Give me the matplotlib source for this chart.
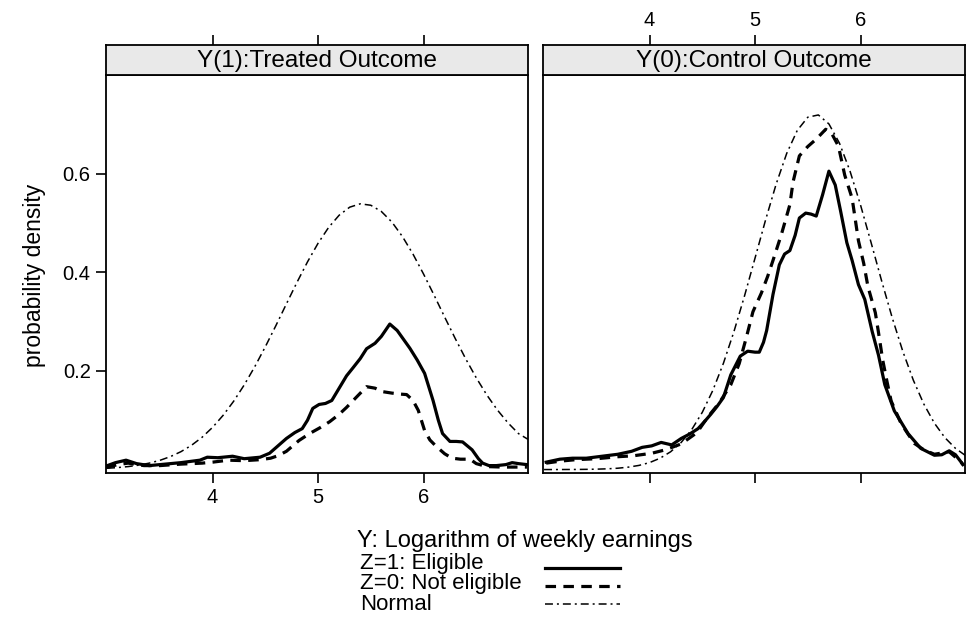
import numpy as np
import matplotlib
matplotlib.use("Agg")
import matplotlib.pyplot as plt
from matplotlib.lines import Line2D

plt.rcParams['font.family'] = ['Liberation Sans', 'DejaVu Sans']

# %%
# Data
panel_titles = ["Y(1):Treated Outcome", "Y(0):Control Outcome"]
x_ticks = [4, 5, 6]
y_ticks = [0.2, 0.4, 0.6]
y_tick_labels = ["0.2", "0.4", "0.6"]

# grid for the normal reference curves
normal_x = np.round(np.linspace(3.0, 7.0, 41), 2)

# treated outcome (left panel)
treated_normal = [0.0026, 0.0040, 0.0060, 0.0089, 0.0130, 0.0186, 0.0262, 0.0362, 0.0491, 0.0653,
                  0.0855, 0.1099, 0.1385, 0.1715, 0.2085, 0.2489, 0.2917, 0.3359, 0.3795, 0.4211,
                  0.4588, 0.4909, 0.5157, 0.5320, 0.5388, 0.5359, 0.5233, 0.5018, 0.4724, 0.4368,
                  0.3964, 0.3534, 0.3092, 0.2658, 0.2243, 0.1858, 0.1511, 0.1207, 0.0947, 0.0729,
                  0.0600]
treated_elig_x = [2.99, 3.08, 3.18, 3.28, 3.40, 3.55, 3.70, 3.88, 3.95, 4.05, 4.19, 4.30, 4.45, 4.54,
                  4.62, 4.70, 4.78, 4.85, 4.90, 4.95, 5.01, 5.07, 5.13, 5.20, 5.27, 5.33, 5.40, 5.46,
                  5.54, 5.60, 5.68, 5.75, 5.81, 5.87, 5.94, 6.01, 6.09, 6.14, 6.18, 6.25, 6.31, 6.37,
                  6.46, 6.52, 6.56, 6.62, 6.69, 6.78, 6.84, 6.90, 6.98]
treated_elig = [0.007, 0.014, 0.019, 0.012, 0.008, 0.011, 0.014, 0.019, 0.025, 0.024, 0.027, 0.022,
                0.025, 0.033, 0.048, 0.063, 0.075, 0.083, 0.100, 0.124, 0.132, 0.134, 0.140, 0.165,
                0.190, 0.206, 0.225, 0.245, 0.256, 0.270, 0.295, 0.282, 0.264, 0.246, 0.222, 0.195,
                0.140, 0.100, 0.073, 0.057, 0.057, 0.056, 0.040, 0.022, 0.013, 0.008, 0.008, 0.010,
                0.014, 0.012, 0.010]
treated_nonelig_x = [2.99, 3.10, 3.20, 3.35, 3.50, 3.70, 3.90, 4.00, 4.15, 4.30, 4.45, 4.55, 4.62,
                     4.70, 4.76, 4.82, 4.92, 5.02, 5.11, 5.20, 5.27, 5.36, 5.46, 5.54, 5.61, 5.70,
                     5.78, 5.84, 5.90, 5.95, 6.01, 6.06, 6.12, 6.20, 6.27, 6.35, 6.44, 6.50, 6.60,
                     6.75, 6.98]
treated_nonelig = [0.004, 0.010, 0.013, 0.008, 0.008, 0.011, 0.013, 0.015, 0.019, 0.018, 0.020,
                   0.023, 0.028, 0.037, 0.048, 0.059, 0.073, 0.085, 0.097, 0.112, 0.126, 0.146,
                   0.168, 0.165, 0.158, 0.155, 0.153, 0.152, 0.140, 0.120, 0.079, 0.060, 0.047,
                   0.032, 0.023, 0.021, 0.021, 0.012, 0.006, 0.005, 0.005]

# control outcome (right panel)
control_normal = [0.0000, 0.0000, 0.0001, 0.0002, 0.0004, 0.0008, 0.0015, 0.0027, 0.0049, 0.0084,
                  0.0141, 0.0230, 0.0361, 0.0550, 0.0811, 0.1161, 0.1606, 0.2154, 0.2798, 0.3520,
                  0.4289, 0.5063, 0.5788, 0.6410, 0.6876, 0.7144, 0.7190, 0.7008, 0.6618, 0.6052,
                  0.5362, 0.4601, 0.3824, 0.3079, 0.2400, 0.1813, 0.1327, 0.0940, 0.0645, 0.0429,
                  0.0276]
control_elig_x = [3.02, 3.15, 3.27, 3.40, 3.55, 3.70, 3.83, 3.93, 4.02, 4.11, 4.21, 4.30, 4.38, 4.46,
                  4.52, 4.58, 4.64, 4.70, 4.77, 4.86, 4.93, 5.00, 5.04, 5.08, 5.11, 5.17, 5.23, 5.28,
                  5.33, 5.38, 5.42, 5.48, 5.53, 5.58, 5.64, 5.70, 5.76, 5.81, 5.87, 5.92, 5.98, 6.04,
                  6.11, 6.17, 6.23, 6.32, 6.45, 6.57, 6.70, 6.77, 6.84, 6.90, 6.95, 6.97]
control_elig = [0.015, 0.021, 0.023, 0.023, 0.027, 0.031, 0.037, 0.045, 0.048, 0.055, 0.050, 0.063,
                0.072, 0.083, 0.097, 0.112, 0.128, 0.146, 0.192, 0.230, 0.240, 0.238, 0.238, 0.258,
                0.282, 0.355, 0.415, 0.437, 0.444, 0.475, 0.510, 0.520, 0.518, 0.514, 0.557, 0.605,
                0.577, 0.525, 0.460, 0.424, 0.375, 0.345, 0.280, 0.232, 0.172, 0.119, 0.073, 0.043,
                0.029, 0.030, 0.038, 0.030, 0.016, 0.010]
control_nonelig_x = [3.02, 3.15, 3.30, 3.50, 3.70, 3.85, 4.02, 4.15, 4.30, 4.45, 4.55, 4.66, 4.77,
                     4.85, 4.92, 4.98, 5.06, 5.12, 5.17, 5.25, 5.33, 5.36, 5.42, 5.50, 5.58, 5.67,
                     5.73, 5.79, 5.85, 5.92, 5.98, 6.03, 6.07, 6.14, 6.17, 6.21, 6.25, 6.29, 6.385,
                     6.45, 6.51, 6.60, 6.70, 6.84, 6.95, 6.97]
control_nonelig = [0.013, 0.017, 0.020, 0.022, 0.026, 0.028, 0.033, 0.040, 0.052, 0.075, 0.106,
                   0.135, 0.172, 0.215, 0.270, 0.320, 0.358, 0.392, 0.424, 0.477, 0.537, 0.583,
                   0.636, 0.655, 0.670, 0.690, 0.680, 0.656, 0.597, 0.550, 0.464, 0.418, 0.371,
                   0.318, 0.278, 0.222, 0.179, 0.139, 0.093, 0.072, 0.053, 0.040, 0.031, 0.036,
                   0.016, 0.010]

legend_title = "Y: Logarithm of weekly earnings"
legend_labels = ["Z=1: Eligible", "Z=0: Not eligible", "Normal"]

# %%
# Styles
W, H = 967, 624
XLIM = (2.99, 6.99)
YLIM = (-0.007, 0.80)
solid = dict(color='black', lw=2.3, linestyle='-')
dashed = dict(color='black', lw=2.3, linestyle=(0, (3.3, 2.3)))
dashdot = dict(color='black', lw=1.1, linestyle=(0, (5.2, 2.6, 1.3, 2.6)))

fig = plt.figure(figsize=(W / 100, H / 100), dpi=100)


def px_axes(l, t, r, b):
    return fig.add_axes([l / W, 1 - b / H, (r - l) / W, (b - t) / H])


panels = [
    (106, 528, panel_titles[0], treated_normal, treated_elig_x, treated_elig,
     treated_nonelig_x, treated_nonelig),
    (543, 965, panel_titles[1], control_normal, control_elig_x, control_elig,
     control_nonelig_x, control_nonelig),
]

for i, (l, r, title, nrm, ex, ey, nx, ny) in enumerate(panels):
    ax = px_axes(l, 75, r, 473)
    ax.plot(normal_x, nrm, **dashdot)
    ax.plot(nx, ny, **dashed)
    ax.plot(ex, ey, **solid)
    ax.set_xlim(*XLIM)
    ax.set_ylim(*YLIM)
    for s in ax.spines.values():
        s.set_linewidth(1.3)
    ax.set_xticks(x_ticks)
    ax.tick_params(axis='both', direction='out', length=7, width=1.2, labelsize=14.5, pad=4)
    if i == 0:
        ax.set_xticklabels([str(t) for t in x_ticks])
        ax.set_yticks(y_ticks)
        ax.set_yticklabels(y_tick_labels)
    else:
        ax.set_xticklabels([])
        ax.set_yticks([])

    # strip on top of the panel
    st = px_axes(l, 45, r, 75)
    st.set_facecolor('#e9e9e9')
    st.set_xlim(*XLIM)
    st.set_ylim(0, 1)
    st.set_yticks([])
    st.set_xticks(x_ticks)
    st.xaxis.tick_top()
    st.tick_params(axis='x', direction='out', length=7, width=1.2, labelsize=14.5, pad=4)
    if i == 0:
        st.set_xticklabels([])
    for s in st.spines.values():
        s.set_linewidth(1.3)
    st.text(0.5, 0.45, title, transform=st.transAxes, ha='center', va='center', fontsize=17.5)

fig.text(35 / W, 1 - 275 / H, "probability density", rotation=90, ha='center', va='center',
         fontsize=16.5)

# legend drawn by hand below the panels
fig.text(357 / W, 1 - 541 / H, legend_title, ha='left', va='center', fontsize=17)
rows_y = [566, 584, 602]
fig.text(360 / W, 1 - 584 / H, "\n".join(legend_labels), ha='left', va='center',
         fontsize=16, linespacing=0.98)
styles = [solid, dashed, dashdot]
for yy, sty in zip(rows_y, styles):
    fig.add_artist(Line2D([545 / W, 620 / W], [1 - (yy + 2) / H, 1 - (yy + 2) / H],
                          transform=fig.transFigure, **sty))

fig.savefig("out.png", dpi=100)
